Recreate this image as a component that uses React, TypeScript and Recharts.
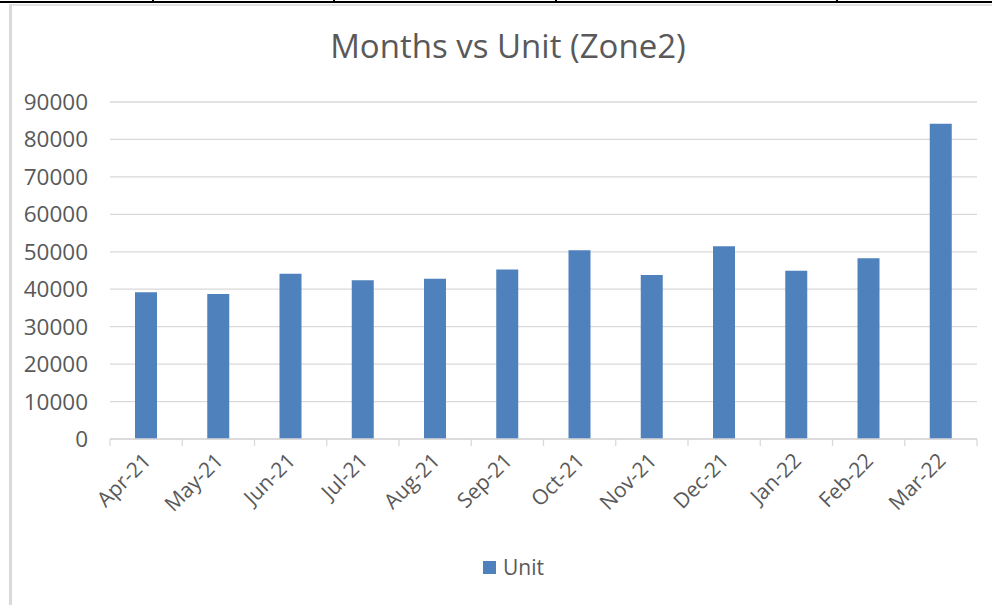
import React from 'react';
import { BarChart, Bar, XAxis, YAxis, CartesianGrid, Legend } from 'recharts';

const months = ['Apr-21', 'May-21', 'Jun-21', 'Jul-21', 'Aug-21', 'Sep-21', 'Oct-21', 'Nov-21', 'Dec-21', 'Jan-22', 'Feb-22', 'Mar-22'];
const units = [39200, 38700, 44100, 42400, 42800, 45300, 50400, 43800, 51500, 44900, 48300, 84200];
const yTicks = [0, 10000, 20000, 30000, 40000, 50000, 60000, 70000, 80000, 90000];

const data = months.map((m, i) => ({ month: m, Unit: units[i] }));

const W = 992;
const H = 605;
const M = { top: 102, right: 15, bottom: 25, left: 0 };
const Y_W = 110;
const PLOT_W = W - M.right - M.left - Y_W;
const FONT = '"Open Sans", sans-serif';
const GREY = '#595959';
const BLUE = '#4f81bd';

const MonthTick = (props: any) => {
  const { x, y, payload, index } = props;
  const band = PLOT_W / months.length;
  return (
    <g>
      <line x1={x - band / 2} y1={y} x2={x - band / 2} y2={y + 7} stroke="#d9d9d9" strokeWidth={1.3} />
      {index === months.length - 1 && (
        <line x1={x + band / 2} y1={y} x2={x + band / 2} y2={y + 7} stroke="#d9d9d9" strokeWidth={1.3} />
      )}
      <text
        x={x + 6}
        y={y + 23}
        textAnchor="end"
        fill={GREY}
        fontSize={21}
        fontFamily={FONT}
        transform={`rotate(-45, ${x + 6}, ${y + 23})`}
      >
        {payload.value}
      </text>
    </g>
  );
};

const UnitLegend = () => (
  <div style={{ height: 26, display: 'flex', alignItems: 'center', justifyContent: 'center', paddingLeft: 50 }}>
    <span style={{ width: 13, height: 13, background: BLUE, display: 'inline-block', marginRight: 7 }} />
    <span style={{ fontFamily: FONT, fontSize: 21, color: GREY }}>Unit</span>
  </div>
);

export default function App() {
  return (
    <div style={{ position: 'absolute', left: 0, top: 0, width: W, height: H, background: '#fff', overflow: 'hidden' }}>
      {/* bits of the sheet above the chart */}
      <div style={{ position: 'absolute', left: 0, top: 1, width: W, height: 2, background: '#000' }} />
      {[152, 333, 555, 836].map((x) => (
        <div key={x} style={{ position: 'absolute', left: x, top: 0, width: 2, height: 3, background: '#000' }} />
      ))}
      <div style={{ position: 'absolute', left: 9, top: 4, width: W, height: 2, background: '#e3e3e3' }} />
      <div style={{ position: 'absolute', left: 9, top: 4, width: 3, height: H, background: '#d9d9d9' }} />

      <div
        style={{
          position: 'absolute',
          left: 0,
          top: 23,
          width: W,
          paddingLeft: 24,
          boxSizing: 'border-box',
          textAlign: 'center',
          fontFamily: FONT,
          fontSize: 33,
          color: GREY,
        }}
      >
        Months vs Unit (Zone2)
      </div>

      <BarChart width={W} height={H} data={data} margin={M} style={{ position: 'absolute', left: 0, top: 0 }}>
        <CartesianGrid vertical={false} stroke="#d9d9d9" strokeWidth={1.3} />
        <XAxis
          dataKey="month"
          interval={0}
          height={115}
          tickLine={false}
          tickSize={0}
          tickMargin={0}
          axisLine={{ stroke: '#d9d9d9', strokeWidth: 1.3 }}
          tick={<MonthTick />}
        />
        <YAxis
          width={Y_W}
          domain={[0, 90000]}
          ticks={yTicks}
          interval={0}
          axisLine={false}
          tickLine={false}
          tickSize={0}
          tickMargin={22}
          tick={{ fill: GREY, fontSize: 22.5, fontFamily: FONT }}
        />
        <Legend verticalAlign="bottom" align="center" content={<UnitLegend />} />
        <Bar dataKey="Unit" fill={BLUE} barSize={22} isAnimationActive={false} />
      </BarChart>
    </div>
  );
}
